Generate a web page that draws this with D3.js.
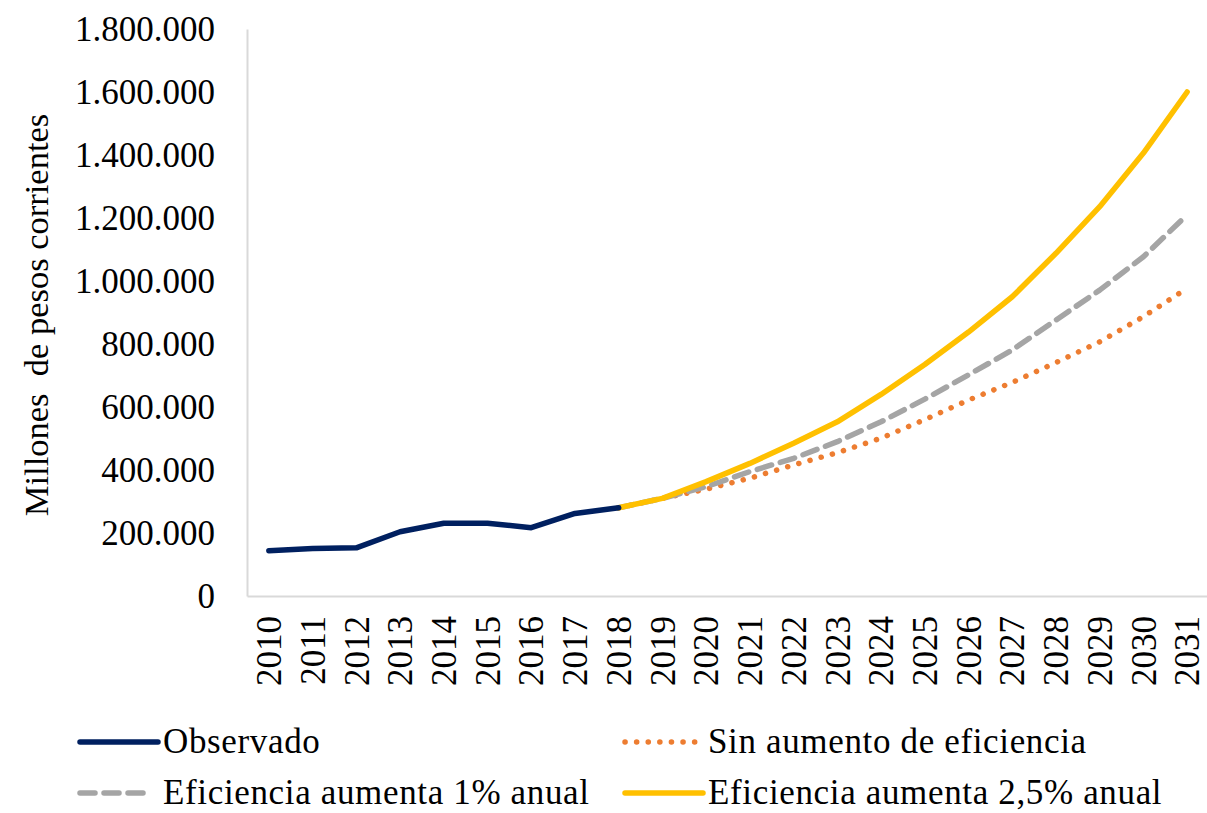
<!DOCTYPE html>
<html lang="es">
<head>
<meta charset="utf-8">
<title>Millones de pesos corrientes</title>
<style>
  body { margin: 0; background: #fff; }
  svg text { font-family: 'Liberation Serif', 'Times New Roman', serif; fill: #000; }
</style>
<script src="https://d3js.org/d3.v7.min.js"></script>
</head>
<body>
<svg id="chart" width="1207" height="813"></svg>
<script>
// años del eje x
var years = d3.range(2010, 2032);
var yTicks = [0, 200000, 400000, 600000, 800000, 1000000, 1200000, 1400000, 1600000, 1800000];

// serie observada 2010-2018
var obsYears = d3.range(2010, 2019);
var observado = [144000, 151000, 153000, 204000, 231000, 231000, 217000, 262000, 280000];

// proyecciones 2018-2031
var projYears = d3.range(2018, 2032);
var sinAumento = [280000, 310000, 339000, 374000, 416000, 455000, 501000, 560000, 622000, 678000, 741000, 807000, 887000, 977000];
var efic1 = [280000, 310000, 347000, 395000, 437000, 490000, 553000, 625000, 702000, 781000, 876000, 971000, 1077000, 1210000];
var efic25 = [280000, 310000, 363000, 421000, 485000, 553000, 640000, 735000, 838000, 950000, 1088000, 1236000, 1406000, 1600000];

var svg = d3.select("#chart");

var x = d3.scaleBand().domain(years).range([247, 1209]);
var y = d3.scaleLinear().domain([0, 1800000]).range([596, 29]);
var cx = function(yr) { return x(yr) + x.bandwidth() / 2; };

var fmt = function(v) { return d3.format(",")(v).replace(/,/g, "."); };

// eje y
var yAxis = svg.append("g")
  .attr("transform", "translate(247,0)")
  .call(d3.axisLeft(y).tickValues(yTicks).tickSize(0).tickPadding(32).tickFormat(fmt));
yAxis.select(".domain").attr("stroke", "#d9d9d9").attr("stroke-width", 2);
yAxis.selectAll("text").style("font-size", "35px").attr("font-family", null);

// eje x
var xAxis = svg.append("g")
  .attr("transform", "translate(0,596)")
  .call(d3.axisBottom(x).tickSize(0).tickFormat(d3.format("d")));
xAxis.select(".domain").attr("stroke", "#d9d9d9").attr("stroke-width", 2);
xAxis.selectAll("text")
  .style("font-size", "35px")
  .attr("font-family", null)
  .attr("text-anchor", "end")
  .attr("dy", "0.35em")
  .attr("transform", "translate(0,20) rotate(-90)")
  .attr("x", 0).attr("y", 0);

// título eje y
svg.append("text")
  .attr("transform", "translate(48,315) rotate(-90)")
  .attr("text-anchor", "middle")
  .style("font-size", "34.5px")
  .style("white-space", "pre")
  .text("Millones  de pesos corrientes");

var line = d3.line().x(function(d) { return cx(d[0]); }).y(function(d) { return y(d[1]); });

var series = [
  { name: "Sin aumento de eficiencia", yrs: projYears, vals: sinAumento, color: "#ED7D31", dash: "0.1,11.5" },
  { name: "Eficiencia aumenta 1% anual", yrs: projYears, vals: efic1, color: "#A5A5A5", dash: "15,9" },
  { name: "Eficiencia aumenta 2,5% anual", yrs: projYears, vals: efic25, color: "#FFC000", dash: null },
  { name: "Observado", yrs: obsYears, vals: observado, color: "#002060", dash: null }
];

series.forEach(function(s) {
  svg.append("path")
    .datum(d3.zip(s.yrs, s.vals))
    .attr("fill", "none")
    .attr("stroke", s.color)
    .attr("stroke-width", 5.5)
    .attr("stroke-linecap", "round")
    .attr("stroke-linejoin", "round")
    .attr("stroke-dasharray", s.dash)
    .attr("d", line);
});

// leyenda
var legend = [
  { s: series[3], x: 80, y: 742 },
  { s: series[0], x: 625, y: 742 },
  { s: series[1], x: 80, y: 793 },
  { s: series[2], x: 625, y: 793 }
];
legend.forEach(function(l) {
  var w = l.s.dash === "15,9" ? 70 : 78;
  svg.append("line")
    .attr("x1", l.x).attr("x2", l.x + w)
    .attr("y1", l.y).attr("y2", l.y)
    .attr("stroke", l.s.color)
    .attr("stroke-width", 5.5)
    .attr("stroke-linecap", "round")
    .attr("stroke-dasharray", l.s.dash);
  svg.append("text")
    .attr("x", l.x + 83).attr("y", l.y)
    .attr("dy", "0.32em")
    .style("font-size", "35px")
    .style("letter-spacing", "0.65px")
    .text(l.s.name);
});
</script>
</body>
</html>
